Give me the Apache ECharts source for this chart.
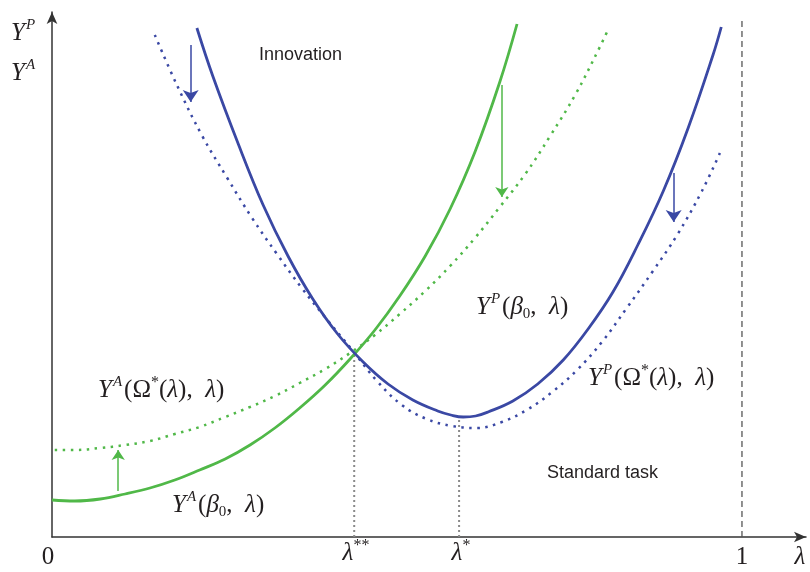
<!DOCTYPE html>
<html>
<head>
<meta charset="utf-8">
<script src="https://cdn.jsdelivr.net/npm/echarts@6/dist/echarts.min.js"></script>
<style>
  html, body { margin: 0; background: #fff; }
  #chart { width: 810px; height: 572px; }
</style>
</head>
<body>
<div id="chart"></div>
<script>
// [lambda, level]
const yaBeta = [[0, 37], [0.033, 36], [0.07, 38], [0.106, 43], [0.142, 49], [0.178, 57], [0.214, 67], [0.251, 78], [0.287, 92], [0.323, 109], [0.359, 129], [0.396, 152], [0.432, 178], [0.468, 207], [0.504, 241], [0.541, 281], [0.577, 328], [0.613, 385], [0.649, 455], [0.674, 513]]
const yaOmega = [[0.004, 87], [0.033, 87], [0.07, 89], [0.106, 92], [0.142, 96], [0.178, 103], [0.214, 110], [0.251, 120], [0.287, 130], [0.323, 141], [0.359, 154], [0.396, 168], [0.432, 184], [0.468, 202], [0.504, 223], [0.541, 246], [0.577, 271], [0.613, 299], [0.649, 330], [0.686, 363], [0.722, 401], [0.759, 443], [0.794, 490], [0.807, 509]]
const ypBeta = [[0.21, 509], [0.233, 461], [0.27, 393], [0.306, 332], [0.342, 281], [0.378, 238], [0.414, 203], [0.451, 175], [0.487, 153], [0.523, 137], [0.559, 126], [0.578, 122], [0.596, 120], [0.614, 121], [0.632, 125], [0.668, 136], [0.704, 153], [0.741, 177], [0.777, 208], [0.813, 245], [0.849, 292], [0.886, 346], [0.922, 409], [0.958, 482], [0.97, 510]]
const ypOmega = [[0.149, 502], [0.181, 452], [0.217, 402], [0.254, 359], [0.29, 319], [0.326, 283], [0.362, 249], [0.399, 217], [0.435, 187], [0.471, 156], [0.507, 132], [0.543, 118], [0.58, 111], [0.616, 109], [0.652, 115], [0.688, 127], [0.725, 145], [0.761, 167], [0.797, 195], [0.833, 229], [0.87, 265], [0.906, 302], [0.942, 346], [0.968, 384]]

// guide lines: [lambda, top]
const lambdaStarStar = [0.438, 183]
const lambdaStar = [0.59, 117]
const lambdaOne = [1, 517]

// shift arrows: [lambda, from, to]
const arrowsBlue = [[0.201, 492, 435], [0.901, 364, 315]]
const arrowsGreen = [[0.096, 46, 87], [0.652, 452, 340]]

const BLUE = '#3a48a4'
const GREEN = '#50b848'
const INK = '#231f20'
const SERIF = '"Liberation Serif", "DejaVu Serif", serif'

const chart = echarts.init(document.getElementById('chart'))

const rich = {
  i: { fontFamily: SERIF, fontStyle: 'italic', fontSize: 25, lineHeight: 30, fill: INK },
  n: { fontFamily: SERIF, fontSize: 25, lineHeight: 30, fill: INK },
  sup: { fontFamily: SERIF, fontStyle: 'italic', fontSize: 15, lineHeight: 20, verticalAlign: 'top', fill: INK, padding: [0, 2, 0, 1] },
  supn: { fontFamily: SERIF, fontSize: 16, lineHeight: 20, verticalAlign: 'top', fill: INK },
  sub: { fontFamily: SERIF, fontSize: 15, lineHeight: 16, verticalAlign: 'bottom', fill: INK }
}

const txt = (x, y, text, extra) => ({
  type: 'text', x, y, silent: true,
  style: Object.assign({ text, rich, verticalAlign: 'middle', fill: INK }, extra || {})
})

const guide = (p, type, color, width) => ({
  type: 'line', data: [[p[0], 0], [p[0], p[1]]], symbol: 'none', silent: true,
  lineStyle: { color, width, type }
})

const arrows = (list, color, size) => ({
  type: 'line', data: [], symbol: 'none', silent: true,
  markLine: {
    silent: true, symbol: ['none', 'arrow'], symbolSize: size, label: { show: false },
    lineStyle: { color, width: 1.5, type: 'solid' },
    data: list.map(a => [{ coord: [a[0], a[1]] }, { coord: [a[0], a[2]] }])
  }
})

const curve = (data, color, type) => ({
  type: 'line', data, smooth: 0.4, symbol: 'none', silent: true,
  lineStyle: type ? { color, width: 2.5, type } : { color, width: 2.8 }
})

chart.setOption({
  animation: false,
  grid: { left: 52, right: 4, top: 12, bottom: 35 },
  xAxis: {
    type: 'value', min: 0, max: 1.0928,
    axisLine: { show: true, symbol: ['none', 'arrow'], symbolSize: [8, 12], lineStyle: { color: '#333', width: 1.5 } },
    axisTick: { show: false }, axisLabel: { show: false }, splitLine: { show: false }
  },
  yAxis: {
    type: 'value', min: 0, max: 525,
    axisLine: { show: true, symbol: ['none', 'arrow'], symbolSize: [8, 12], lineStyle: { color: '#333', width: 1.5 } },
    axisTick: { show: false }, axisLabel: { show: false }, splitLine: { show: false }
  },
  series: [
    guide(lambdaStarStar, [2, 3], '#8a8a8a', 2),
    guide(lambdaStar, [2, 3], '#8a8a8a', 2),
    guide(lambdaOne, [6, 4], '#555', 1.3),
    curve(yaOmega, GREEN, [2.5, 5.5]),
    curve(ypOmega, BLUE, [2.5, 5.5]),
    curve(yaBeta, GREEN),
    curve(ypBeta, BLUE),
    arrows(arrowsBlue, BLUE, 12),
    arrows(arrowsGreen, GREEN, 10)
  ],
  graphic: [
    txt(11, 33, '{i|Y}{sup|P}'),
    txt(11, 73, '{i|Y}{sup|A}'),
    txt(98, 390, '{i|Y}{sup|A}{n|(Ω}{supn|*}{n|(}{i|λ}{n|),  }{i|λ}{n|)}'),
    txt(172, 505, '{i|Y}{sup|A}{n|(}{i|β}{sub|0}{n|,  }{i|λ}{n|)}'),
    txt(476, 307, '{i|Y}{sup|P}{n|(}{i|β}{sub|0}{n|,  }{i|λ}{n|)}'),
    txt(588, 378, '{i|Y}{sup|P}{n|(Ω}{supn|*}{n|(}{i|λ}{n|),  }{i|λ}{n|)}'),
    txt(48, 557, '{n|0}', { align: 'center' }),
    txt(742, 557, '{n|1}', { align: 'center' }),
    txt(800, 557, '{i|λ}', { align: 'center' }),
    txt(356, 553, '{i|λ}{supn|**}', { align: 'center' }),
    txt(461, 553, '{i|λ}{supn|*}', { align: 'center' }),
    txt(259, 55, 'Innovation', { font: '18px "Liberation Sans", Arial, sans-serif', rich: null }),
    txt(547, 473, 'Standard task', { font: '18px "Liberation Sans", Arial, sans-serif', rich: null })
  ]
})
</script>
</body>
</html>
